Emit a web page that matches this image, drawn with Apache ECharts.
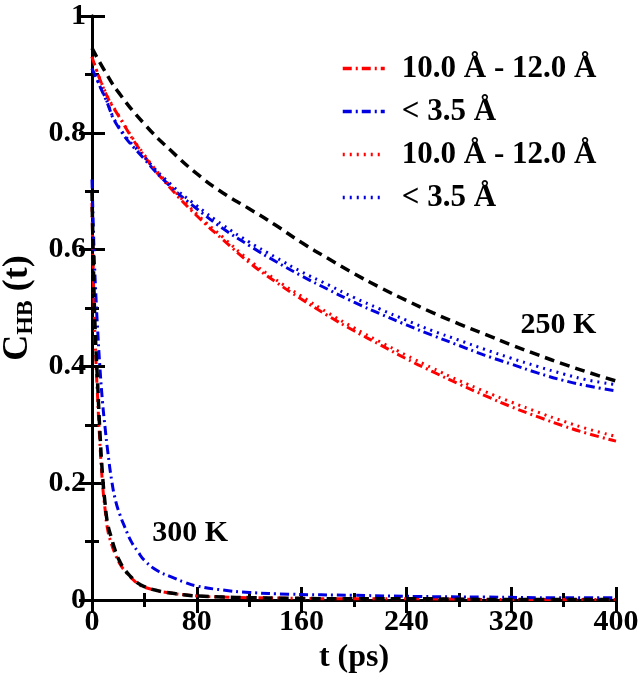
<!DOCTYPE html>
<html><head><meta charset="utf-8">
<script src="https://cdn.jsdelivr.net/npm/echarts@6/dist/echarts.min.js"></script>
<style>html,body{margin:0;padding:0;background:#fff}#c{width:643px;height:677px}</style>
</head><body><div id="c"></div>
<script>
// ---- data ----
const t250 = [0,10,20,40,60,80,100,120,140,160,180,200,220,240,260,280,300,320,340,360,380,400];
const black250 = [0.945,0.905,0.870,0.815,0.770,0.730,0.697,0.670,0.642,0.612,0.585,0.559,0.535,0.513,0.492,0.473,0.455,0.437,0.420,0.404,0.389,0.375];
const redDashDot250 = [0.930,0.870,0.830,0.760,0.705,0.658,0.617,0.578,0.545,0.515,0.487,0.461,0.437,0.413,0.391,0.370,0.350,0.331,0.314,0.298,0.284,0.272];
const blueDashDot250 = [0.910,0.860,0.810,0.755,0.708,0.670,0.636,0.607,0.580,0.555,0.532,0.510,0.490,0.471,0.453,0.436,0.419,0.404,0.389,0.376,0.366,0.358];
const redDot250 = [0.930,0.871,0.831,0.762,0.708,0.661,0.621,0.582,0.549,0.520,0.492,0.466,0.442,0.419,0.397,0.376,0.357,0.339,0.322,0.306,0.292,0.280];
const blueDot250 = [0.910,0.861,0.812,0.758,0.712,0.675,0.642,0.613,0.587,0.562,0.540,0.518,0.498,0.479,0.461,0.445,0.429,0.414,0.400,0.387,0.376,0.369];

const t300 = [0,1,2,3,4,6,8,10,12,15,18,21,25,30,35,40,50,60,70,80,100,120,150,200,250,300,350,400];
const black300 = [0.700,0.580,0.490,0.430,0.385,0.290,0.215,0.165,0.130,0.105,0.083,0.067,0.052,0.039,0.029,0.023,0.016,0.012,0.009,0.007,0.005,0.004,0.003,0.002,0.002,0.001,0.001,0.001];
const redDashDot300 = [0.680,0.560,0.470,0.410,0.360,0.270,0.200,0.155,0.120,0.095,0.077,0.063,0.050,0.038,0.028,0.022,0.016,0.012,0.009,0.007,0.005,0.004,0.003,0.002,0.002,0.001,0.001,0.001];
const blueDashDot300 = [0.720,0.640,0.570,0.520,0.475,0.400,0.340,0.295,0.255,0.205,0.170,0.148,0.125,0.100,0.083,0.068,0.050,0.040,0.031,0.024,0.017,0.013,0.010,0.008,0.006,0.005,0.004,0.004];

const nameFar = "10.0 Å - 12.0 Å";
const nameNear = "< 3.5 Å";
const nameFarDot = "10.0 Å - 12.0 Å\u200b";
const nameNearDot = "< 3.5 Å\u200b";

// ---- chart ----
const FONT = '"Liberation Serif","Times New Roman",serif';
const pairs = (ts, vs) => ts.map((t,i)=>[t, vs[i]]);
const RED = '#ff0000', BLUE = '#0000e0', BLACK = '#000000';
const DASHDOT = [9,4,2,4], DOT = [2,5], DASH = [10,6];
function line(name, ts, vs, color, type, w) {
  return { name, type:'line', data: pairs(ts, vs), xAxisIndex:0, yAxisIndex:0,
    symbol:'none', smooth:true, animation:false, silent:true,
    lineStyle:{ color, width: w||3, type }, itemStyle:{color} };
}
const chart = echarts.init(document.getElementById('c'));
const axisCommon = {
  axisLine:{ show:true, lineStyle:{ color:'#000', width:3 } },
  splitLine:{ show:false },
  axisTick:{ show:true, inside:true, length:13, lineStyle:{ color:'#000', width:3 } },
  minorTick:{ show:true, splitNumber:2, length:7, lineStyle:{ color:'#000', width:3 } },
};
chart.setOption({
  backgroundColor:'#fff',
  animation:false,
  grid:{ left:92, right:27, top:16, bottom:77, containLabel:false, outerBoundsMode:'none' },
  legend:{
    data:[nameFar, nameNear, nameFarDot, nameNearDot],
    orient:'vertical', left:336, top:48, itemWidth:42, itemHeight:12, itemGap:12,
    selectedMode:false,
    itemStyle:{ opacity:0 },
    lineStyle:{ width:3.5 },
    textStyle:{ fontFamily:FONT, fontWeight:'bold', fontSize:31, color:'#000', padding:[0,0,0,12] },
    formatter: n => n.replace('\u200b','')
  },
  xAxis:[
    Object.assign({ type:'value', min:0, max:400, interval:80, position:'bottom',
      axisLabel:{ fontFamily:FONT, fontWeight:'bold', fontSize:30, color:'#000', margin:7 },
      name:'t (ps)', nameLocation:'middle', nameGap:40,
      nameTextStyle:{ fontFamily:FONT, fontWeight:'bold', fontSize:32, color:'#000' } }, axisCommon),
    Object.assign({ type:'value', min:0, max:400, interval:80, position:'top', axisLabel:{show:false} }, axisCommon)
  ],
  yAxis:[
    Object.assign({ type:'value', min:0, max:1, interval:0.2, position:'left',
      axisLabel:{ fontFamily:FONT, fontWeight:'bold', fontSize:30, color:'#000', margin:6,
        formatter: v => (v===0||v===1) ? String(v) : v.toFixed(1) },
      name:'C{s|HB} (t)', nameLocation:'middle', nameGap:54, nameRotate:90,
      nameTextStyle:{ fontFamily:FONT, fontWeight:'bold', fontSize:36, color:'#000',
        rich:{ s:{ fontFamily:FONT, fontWeight:'bold', fontSize:24, color:'#000', verticalAlign:'bottom', padding:[16,0,0,0] } } } }, axisCommon),
    Object.assign({ type:'value', min:0, max:1, interval:0.2, position:'right', axisLabel:{show:false} }, axisCommon)
  ],
  series:[
    line(nameFar, t250, redDashDot250, RED, DASHDOT),
    line(nameNear, t250, blueDashDot250, BLUE, DASHDOT),
    line(nameFarDot, t250, redDot250, RED, DOT),
    line(nameNearDot, t250, blueDot250, BLUE, DOT),
    line('250 K black', t250, black250, BLACK, DASH, 3.5),
    line(nameFar, t300, redDashDot300, RED, DASHDOT),
    line(nameNear, t300, blueDashDot300, BLUE, DASHDOT),
    line('300 K black', t300, black300, BLACK, DASH, 3.5)
  ]
});
// annotations anchored in data coordinates
const p250 = chart.convertToPixel({xAxisIndex:0, yAxisIndex:0}, [385, 0.47]);
const p300 = chart.convertToPixel({xAxisIndex:0, yAxisIndex:0}, [46, 0.115]);
chart.setOption({ graphic:[
  { type:'text', x:p250[0], y:p250[1], style:{ text:'250 K', font:'bold 30px '+FONT, fill:'#000', align:'right', verticalAlign:'middle' } },
  { type:'text', x:p300[0], y:p300[1], style:{ text:'300 K', font:'bold 30px '+FONT, fill:'#000', align:'left', verticalAlign:'middle' } }
]});
</script></body></html>
